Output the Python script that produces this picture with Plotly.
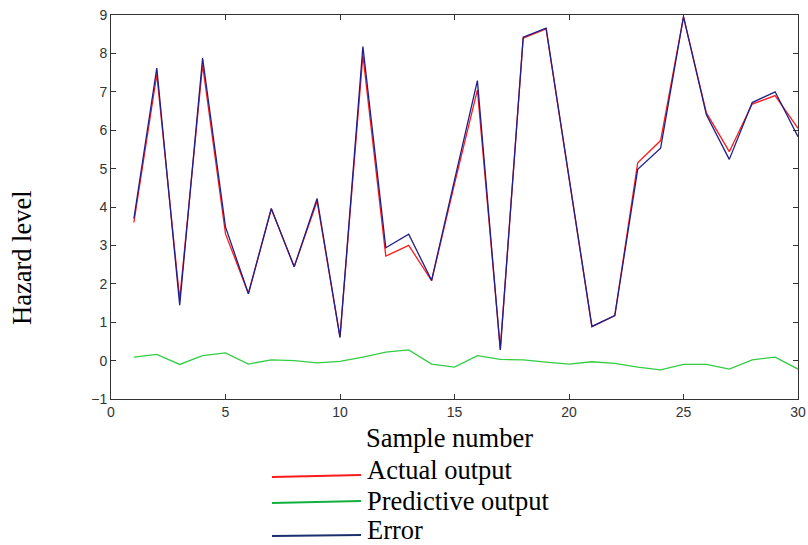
import plotly.graph_objects as go

sample = list(range(1, 31))
actual_output = [3.6, 7.45, 1.6, 7.7, 3.3, 1.75, 3.95, 2.45, 4.15, 0.62,
                 7.95, 2.72, 3.0, 2.08, 4.6, 7.05, 0.3, 8.4, 8.64, 4.8,
                 0.88, 1.17, 5.15, 5.73, 8.95, 6.45, 5.44, 6.68, 6.9, 6.05]
predictive_output = [0.09, 0.16, -0.1, 0.13, 0.2, -0.09, 0.02, 0.0, -0.06, -0.02,
                     0.09, 0.22, 0.28, -0.09, -0.17, 0.13, 0.03, 0.02, -0.04, -0.09,
                     -0.03, -0.07, -0.17, -0.24, -0.1, -0.1, -0.22, 0.02, 0.09, -0.22]
error_series = [3.7, 7.62, 1.44, 7.88, 3.48, 1.74, 3.96, 2.44, 4.22, 0.6,
                8.18, 2.94, 3.29, 2.09, 4.7, 7.29, 0.28, 8.42, 8.66, 4.78,
                0.89, 1.17, 4.98, 5.53, 8.96, 6.4, 5.24, 6.72, 7.0, 5.83]
x_ticks = [0, 5, 10, 15, 20, 25, 30]
y_ticks = [-1, 0, 1, 2, 3, 4, 5, 6, 7, 8, 9]
legend_names = ["Actual output", "Predictive output", "Error"]
colors = ["#ff1a1a", "#33cc44", "#1e1e8c"]
legend_colors = ["#ff1a1a", "#10b040", "#1a2f6e"]

W, H = 808, 545
L, R, T, B = 111, 10, 15, 146
pw, ph = W - L - R, H - T - B

def px(x):
    return (x - L) / pw

def py(y):
    return (H - B - y) / ph

fig = go.Figure()
for name, ys, c in zip(legend_names, [actual_output, predictive_output, error_series], colors):
    fig.add_trace(go.Scatter(x=sample, y=ys, mode="lines", name=name,
                             line=dict(color=c, width=1.3), showlegend=False))

axis_common = dict(showgrid=False, zeroline=False, showline=True, linecolor="#333333",
                   linewidth=1, mirror="ticks", ticks="inside", ticklen=5, automargin=False,
                   tickcolor="#333333", tickfont=dict(family="Liberation Sans", size=14, color="#333333"))
fig.update_xaxes(range=[0, 30], tickvals=x_ticks, **axis_common)
fig.update_yaxes(range=[-1, 9], tickvals=y_ticks, **axis_common)

serif = "Liberation Serif, Times New Roman, serif"
FS = 26.5
annotations = [
    dict(text="Sample number", x=px(449), y=py(438), xref="paper", yref="paper",
         showarrow=False, font=dict(family=serif, size=FS, color="black"), xanchor="center", yanchor="middle"),
    dict(text="Hazard level", x=px(22), y=py(258), xref="paper", yref="paper", textangle=-90,
         showarrow=False, font=dict(family=serif, size=FS, color="black"), xanchor="center", yanchor="middle"),
]
shapes = []
leg_rows = [(469.5, 477, 475), (500.5, 503, 501), (529.5, 536, 535)]
for (ty, ly0, ly1), name, c in zip(leg_rows, legend_names, legend_colors):
    shapes.append(dict(type="line", xref="paper", yref="paper", x0=px(272), x1=px(361),
                       y0=py(ly0), y1=py(ly1), line=dict(color=c, width=2)))
    annotations.append(dict(text=name, x=px(365), y=py(ty), xref="paper", yref="paper",
                            showarrow=False, xanchor="left", yanchor="middle",
                            font=dict(family=serif, size=FS, color="black")))

fig.update_layout(width=W, height=H, margin=dict(l=L, r=R, t=T, b=B),
                  paper_bgcolor="white", plot_bgcolor="white",
                  annotations=annotations, shapes=shapes)
fig.write_html("out.html", config={"displayModeBar": False},
               post_script="document.body.style.margin='0';document.body.style.overflow='hidden';")
